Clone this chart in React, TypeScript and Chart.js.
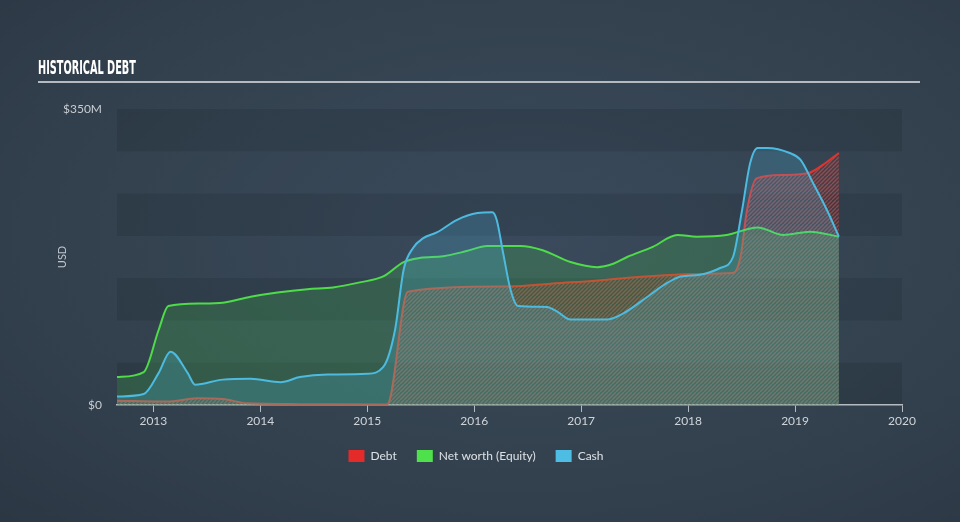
import React, { useEffect, useRef } from "react";
import { Chart, registerables } from "chart.js";

Chart.register(...registerables);

// ---- data (years as decimal, values in $M) ----
const debtYears = [2012.66, 2013.13, 2013.41, 2013.65, 2013.88, 2014.37, 2015.15, 2015.19, 2015.38, 2016.27, 2016.9, 2018.11, 2018.42, 2018.49, 2018.55, 2018.64, 2018.89, 2019.14, 2019.26, 2019.41];
const debtValues = [5, 4, 8, 7, 2, 1, 0.5, 1, 134, 140, 145, 155, 156, 175, 230, 268, 272, 275, 284, 298];

const equityYears = [2012.66, 2012.91, 2013.05, 2013.14, 2013.44, 2013.65, 2013.91, 2014.16, 2014.44, 2014.68, 2014.93, 2015.15, 2015.34, 2015.5, 2015.71, 2015.93, 2016.12, 2016.43, 2016.64, 2016.9, 2017.15, 2017.3, 2017.43, 2017.67, 2017.9, 2018.08, 2018.36, 2018.65, 2018.89, 2019.14, 2019.41];
const equityValues = [33, 39, 89, 117, 120, 121, 128, 133, 137, 139, 145, 152, 169, 174, 176, 182, 188, 188, 183, 169, 163, 167, 175, 187, 201, 199, 201, 210, 201, 205, 199];

const cashYears = [2012.66, 2012.91, 2013.05, 2013.16, 2013.32, 2013.39, 2013.65, 2013.91, 2014.19, 2014.37, 2014.63, 2015.0, 2015.15, 2015.26, 2015.34, 2015.43, 2015.52, 2015.65, 2015.84, 2016.03, 2016.17, 2016.21, 2016.27, 2016.34, 2016.41, 2016.68, 2016.78, 2016.9, 2017.24, 2017.39, 2017.62, 2017.8, 2017.93, 2018.11, 2018.3, 2018.42, 2018.5, 2018.58, 2018.65, 2018.74, 2018.95, 2019.05, 2019.17, 2019.3, 2019.41];
const cashValues = [10, 13, 38, 63, 38, 24, 30, 31, 27, 33, 36, 37, 45, 89, 160, 186, 197, 204, 219, 227, 228, 219, 180, 136, 117, 116, 110, 101, 101, 108, 128, 144, 152, 154, 162, 175, 227, 286, 304, 304, 298, 290, 262, 230, 199];

const xTickYears = [2013, 2014, 2015, 2016, 2017, 2018, 2019, 2020];
const yTickValues = [0, 350];
const bandStarts = [0, 100, 200, 300];
const seriesNames = ["Debt", "Net worth (Equity)", "Cash"];
const seriesColors = ["#e52a2a", "#4fe14c", "#4dbde3"];

const toPoints = (xs: number[], ys: number[]) => xs.map((x, i) => ({ x, y: ys[i] }));

function makeHatch(): CanvasPattern | string {
  const c = document.createElement("canvas");
  c.width = 8;
  c.height = 8;
  const g = c.getContext("2d");
  if (!g) return "rgba(230,70,60,0.4)";
  g.strokeStyle = "rgba(228,72,62,0.62)";
  g.lineWidth = 1.4;
  for (let x0 = -8; x0 <= 8; x0 += 4) {
    g.beginPath();
    g.moveTo(x0, 8);
    g.lineTo(x0 + 8, 0);
    g.stroke();
  }
  const p = g.createPattern(c, "repeat");
  return p || "rgba(230,70,60,0.4)";
}

const bandsPlugin = {
  id: "bands",
  beforeDraw(chart: any) {
    const { ctx, chartArea, scales } = chart;
    const y = scales.y;
    ctx.save();
    ctx.fillStyle = "rgba(18,28,40,0.16)";
    bandStarts.forEach((v) => {
      const top = y.getPixelForValue(v + 50);
      const bottom = y.getPixelForValue(v);
      ctx.fillRect(chartArea.left, top, chartArea.right - chartArea.left, bottom - top);
    });
    ctx.restore();
  },
};

export default function App() {
  const canvasRef = useRef<HTMLCanvasElement | null>(null);
  const titleRef = useRef<HTMLSpanElement | null>(null);

  useEffect(() => {
    if (titleRef.current) {
      const w = titleRef.current.offsetWidth;
      if (w > 0) titleRef.current.style.transform = `scaleX(${98 / w})`;
    }
    const canvas = canvasRef.current;
    if (!canvas) return;
    Chart.defaults.font.family = "Lato, 'Open Sans', sans-serif";
    const hatch = makeHatch();
    const common = {
      pointRadius: 0,
      pointHoverRadius: 0,
      borderWidth: 2,
      cubicInterpolationMode: "monotone" as const,
      fill: "origin" as const,
    };
    const chart = new Chart(canvas, {
      type: "line",
      data: {
        datasets: [
          { ...common, label: seriesNames[0], data: toPoints(debtYears, debtValues), borderColor: "#e3332e", backgroundColor: hatch as any, order: 3 },
          { ...common, label: seriesNames[1], data: toPoints(equityYears, equityValues), borderColor: "#4fdc4a", backgroundColor: "rgba(74,205,82,0.22)", order: 2 },
          { ...common, label: seriesNames[2], data: toPoints(cashYears, cashValues), borderColor: "#4dbbe0", backgroundColor: "rgba(76,186,226,0.22)", order: 1 },
        ],
      },
      options: {
        animation: false,
        responsive: false,
        devicePixelRatio: 1,
        layout: { padding: { left: 50, right: 58, top: 109, bottom: 50 } },
        plugins: {
          tooltip: { enabled: false },
          legend: {
            position: "bottom",
            labels: {
              color: "#dde1e6",
              font: { size: 12 },
              boxWidth: 16,
              boxHeight: 12,
              padding: 20,
              generateLabels: () =>
                seriesNames.map((n, i) => ({
                  text: n,
                  fillStyle: seriesColors[i],
                  strokeStyle: seriesColors[i],
                  lineWidth: 0,
                  hidden: false,
                  datasetIndex: i,
                  fontColor: "#dde1e6",
                })),
            },
          },
        },
        scales: {
          x: {
            type: "linear",
            min: 2012.66,
            max: 2020,
            afterBuildTicks: (s: any) => {
              s.ticks = xTickYears.map((v) => ({ value: v }));
            },
            afterFit: (s: any) => {
              s.height = 25;
            },
            ticks: {
              color: "#cfd4da",
              font: { size: 12 },
              padding: 2,
              maxRotation: 0,
              autoSkip: false,
              callback: (v: any) => String(v),
            },
            grid: { display: true, drawOnChartArea: false, drawTicks: true, tickLength: 7, color: "#b4bac2", lineWidth: 1 },
            border: { display: true, color: "#b4bac2", width: 1.5 },
          },
          y: {
            min: 0,
            max: 350,
            afterBuildTicks: (s: any) => {
              s.ticks = yTickValues.map((v) => ({ value: v }));
            },
            afterFit: (s: any) => {
              s.width = 67;
            },
            ticks: {
              color: "#c8cdd3",
              font: { size: 12 },
              padding: 7,
              callback: (v: any) => (v === 0 ? "$0" : `$${v}M`),
            },
            grid: { display: false },
            border: { display: false },
            title: { display: true, text: "USD", color: "#c0c6cd", font: { size: 11 }, padding: 6 },
          },
        },
      },
      plugins: [bandsPlugin],
    });
    return () => chart.destroy();
  }, []);

  return (
    <div
      style={{
        position: "fixed",
        left: 0,
        top: 0,
        width: 960,
        height: 522,
        overflow: "hidden",
        background: "radial-gradient(ellipse at 55% 45%, #3a4a5c 0%, #34424f 55%, #2c3744 100%)",
      }}
    >
      <span
        ref={titleRef}
        style={{
          position: "absolute",
          left: 38,
          top: 56,
          fontFamily: "'Liberation Sans Narrow', 'DejaVu Sans Condensed', 'Liberation Sans', sans-serif",
          fontWeight: 700,
          fontSize: 19,
          color: "#ffffff",
          whiteSpace: "nowrap",
          transformOrigin: "left top",
          lineHeight: "22px",
        }}
      >
        HISTORICAL DEBT
      </span>
      <div style={{ position: "absolute", left: 38, top: 81, width: 882, height: 2, background: "#b5bac1" }} />
      <canvas ref={canvasRef} width={960} height={522} style={{ position: "absolute", left: 0, top: 0 }} />
    </div>
  );
}
